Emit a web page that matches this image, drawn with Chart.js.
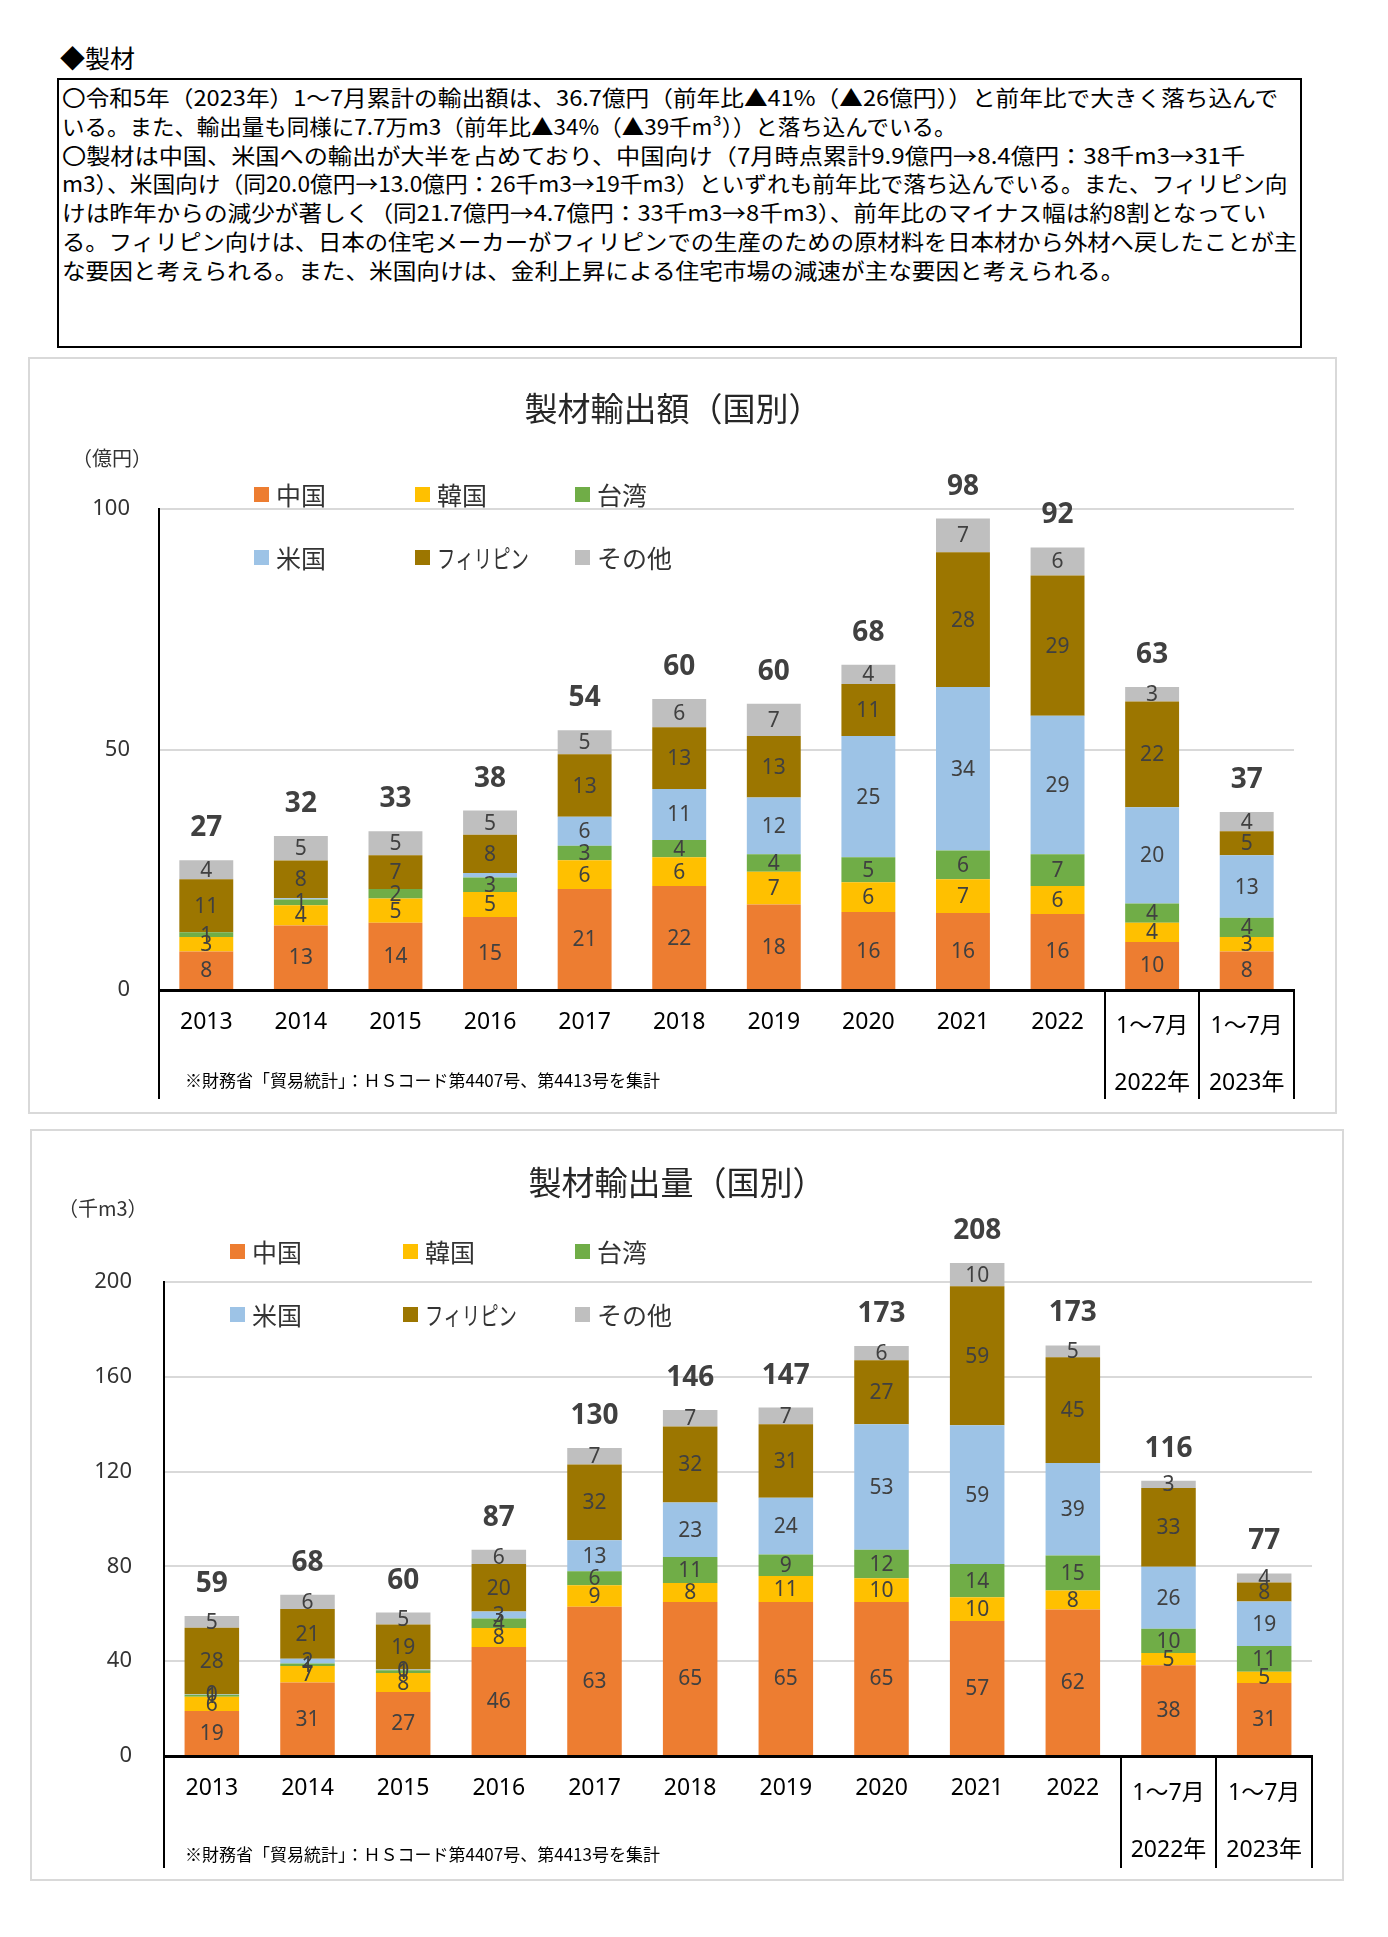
<!DOCTYPE html>
<html lang="ja">
<head>
<meta charset="utf-8">
<script src="https://cdn.jsdelivr.net/npm/chart.js@4.4.0/dist/chart.umd.min.js"></script>
<style>
  body { margin: 0; background: #fff; width: 1388px; height: 1937px; position: relative; font-family: "Noto Sans CJK JP", sans-serif; color: #000; }
  #head { position: absolute; left: 60px; top: 42px; font-size: 25px; line-height: 30px; }
  #box { position: absolute; left: 57px; top: 78px; width: 1245px; height: 270px; border: 2px solid #000; box-sizing: border-box; }
  .line { position: absolute; left: 3px; white-space: nowrap; font-size: 22px; line-height: 29px; transform-origin: 0 50%; }
  .panel { position: absolute; border: 2px solid #d9d9d9; box-sizing: border-box; }
  canvas { position: absolute; }
</style>
</head>
<body>
<div id="head">◆製材</div>
<div id="box">
  <div class="line">〇令和5年（2023年）1～7月累計の輸出額は、36.7億円（前年比▲41%（▲26億円））と前年比で大きく落ち込んで</div>
  <div class="line">いる。また、輸出量も同様に7.7万m3（前年比▲34%（▲39千m³））と落ち込んでいる。</div>
  <div class="line">〇製材は中国、米国への輸出が大半を占めており、中国向け（7月時点累計9.9億円→8.4億円：38千m3→31千</div>
  <div class="line">m3）、米国向け（同20.0億円→13.0億円：26千m3→19千m3）といずれも前年比で落ち込んでいる。また、フィリピン向</div>
  <div class="line">けは昨年からの減少が著しく（同21.7億円→4.7億円：33千m3→8千m3）、前年比のマイナス幅は約8割となってい</div>
  <div class="line">る。フィリピン向けは、日本の住宅メーカーがフィリピンでの生産のための原材料を日本材から外材へ戻したことが主</div>
  <div class="line">な要因と考えられる。また、米国向けは、金利上昇による住宅市場の減速が主な要因と考えられる。</div>
</div>

<div class="panel" style="left:28px;top:357px;width:1309px;height:757px"></div>
<canvas id="chartAmt" width="1309" height="757" style="left:28px;top:357px"></canvas>
<div class="panel" style="left:30px;top:1129px;width:1314px;height:752px"></div>
<canvas id="chartVol" width="1314" height="752" style="left:30px;top:1129px"></canvas>

<script>
// ---- dados ----
const categories = ['2013', '2014', '2015', '2016', '2017', '2018', '2019', '2020', '2021', '2022', ['1～7月', '2022年'], ['1～7月', '2023年']];
const countries = ['中国', '韓国', '台湾', '米国', 'フィリピン', 'その他'];

// 輸出額（億円）
const amtChina  = [8, 13.4, 14, 15.2, 21, 21.6, 17.8, 16.2, 16, 15.8, 10, 8];
const amtKorea  = [3, 4.2, 5, 5.2, 6, 6, 6.8, 6.2, 7, 5.8, 4, 3];
const amtTaiwan = [1, 1.2, 2, 3, 3, 3.6, 3.6, 5.2, 6, 6.6, 4, 4];
const amtUS     = [0, 0.3, 0, 0.9, 6, 10.6, 11.8, 25.2, 34, 28.8, 20, 13];
const amtPhil   = [11, 7.8, 7, 8, 13, 12.8, 12.8, 10.8, 28, 29.2, 22, 5];
const amtOther  = [4, 5.1, 5, 5, 5, 5.9, 6.7, 4, 7, 5.8, 3, 4];
const amtTotal  = [27, 32, 33, 38, 54, 60, 60, 68, 98, 92, 63, 37];
const amtTicks  = [0, 50, 100];

// 輸出量（千m3）
const volChina  = [19, 31, 27, 46, 63, 65, 65, 65, 57, 61.8, 38.3, 30.8];
const volKorea  = [6, 7, 8, 8, 9, 8, 11, 10, 10, 8, 5.2, 4.8];
const volTaiwan = [0.8, 1, 1.2, 4, 6, 11, 9, 12, 14, 14.8, 10.2, 10.8];
const volUS     = [0.3, 2, 0.3, 3, 13, 23, 24, 53, 58.6, 39, 26.2, 18.8];
const volPhil   = [28, 21, 19, 20, 32, 32, 31, 27, 58.6, 44.6, 33.2, 8];
const volOther  = [5, 6, 5, 6, 7, 7, 7, 6, 9.8, 5, 3, 3.8];
const volTotal  = [59, 68, 60, 87, 130, 146, 147, 173, 208, 173, 116, 77];
const volTicks  = [0, 40, 80, 120, 160, 200];

const cores = ['#ED7D31', '#FFC000', '#70AD47', '#9DC3E6', '#9C7600', '#BFBFBF'];
const fonteNum = '"Noto Sans", "Noto Sans CJK JP", sans-serif';
const fonteJp = '"Noto Sans CJK JP", sans-serif';

// ajusta cada linha do quadro na largura que ela tem no original
(function () {
  const larguras = [1216, 895, 1183, 1226, 1204, 1235, 1062];
  document.querySelectorAll('#box .line').forEach((el, i) => {
    el.style.top = (2 + i * 28.8) + 'px';
    el.style.transform = 'scaleX(' + (larguras[i] / el.scrollWidth) + ')';
  });
})();

// plugin que desenha rótulos, legenda e a tabela de baixo
const extras = {
  id: 'extras',
  afterDatasetsDraw(chart, args, o) {
    const ctx = chart.ctx;
    ctx.save();
    ctx.textAlign = 'center';
    ctx.textBaseline = 'middle';
    ctx.fillStyle = '#404040';
    ctx.font = '21px ' + fonteNum;
    chart.data.datasets.forEach((ds, i) => {
      const meta = chart.getDatasetMeta(i);
      meta.data.forEach((el, j) => {
        const bruto = ds.data[j];
        if (bruto === 0) return;
        if (!o.showZero && bruto < 1) return;
        ctx.fillText(String(Math.round(bruto)), el.x, (el.y + el.base) / 2 + 1);
      });
    });
    // totais
    const last = chart.getDatasetMeta(chart.data.datasets.length - 1);
    ctx.font = 'bold 28px ' + fonteNum;
    last.data.forEach((el, j) => {
      ctx.fillText(String(o.totals[j]), el.x, el.y - 32);
    });
    ctx.restore();
  },
  afterDraw(chart, args, o) {
    const ctx = chart.ctx, area = chart.chartArea, x = chart.scales.x;
    ctx.save();
    ctx.textBaseline = 'middle';
    // título
    ctx.fillStyle = '#262626';
    ctx.textAlign = 'center';
    ctx.font = '33px ' + fonteJp;
    ctx.fillText(o.title, o.titlePos[0], o.titlePos[1]);
    // unidade
    ctx.textAlign = 'left';
    ctx.font = '20px ' + fonteJp;
    ctx.fillStyle = '#333';
    ctx.fillText(o.unit, o.unitPos[0], o.unitPos[1]);
    // legenda (texto comprimido como no original)
    ctx.font = '25px ' + fonteJp;
    chart.data.datasets.forEach((ds, i) => {
      const lx = o.legX[i % 3], ly = o.legY[Math.floor(i / 3)];
      ctx.fillStyle = ds.backgroundColor;
      ctx.fillRect(lx, ly - 8, 15, 15);
      ctx.fillStyle = '#333';
      ctx.fillText(ds.label, lx + 22, ly, 92);
    });
    // linhas da tabela
    ctx.strokeStyle = '#000';
    ctx.lineWidth = 2;
    ctx.beginPath();
    ctx.moveTo(area.left, area.bottom);
    ctx.lineTo(area.left, o.tableBottom);
    [10, 11].forEach(i => {
      const bx = Math.round((x.getPixelForValue(i - 1) + x.getPixelForValue(i)) / 2);
      ctx.moveTo(bx, area.bottom);
      ctx.lineTo(bx, o.tableBottom);
    });
    ctx.moveTo(area.right, area.bottom);
    ctx.lineTo(area.right, o.tableBottom);
    ctx.stroke();
    // rótulos do eixo x
    ctx.textAlign = 'center';
    ctx.fillStyle = '#000';
    ctx.font = '23px ' + fonteNum;
    chart.data.labels.forEach((lab, i) => {
      const px = x.getPixelForValue(i);
      if (Array.isArray(lab)) {
        ctx.fillText(lab[0], px, o.labY[1]);
        ctx.fillText(lab[1], px, o.labY[2]);
      } else {
        ctx.fillText(lab, px, o.labY[0]);
      }
    });
    // fonte
    ctx.textAlign = 'left';
    ctx.font = '17px ' + fonteJp;
    ctx.fillStyle = '#000';
    ctx.fillText('※財務省「貿易統計」：ＨＳコード第4407号、第4413号を集計', o.notePos[0], o.notePos[1]);
    ctx.restore();
  }
};

function montarGrafico(id, o) {
  const cv = document.getElementById(id);
  const W = cv.width, H = cv.height;
  return new Chart(cv, {
    type: 'bar',
    data: {
      labels: categories,
      datasets: o.series.map((d, i) => ({
        label: countries[i], data: d, backgroundColor: cores[i],
        barPercentage: 0.57, categoryPercentage: 1, clip: false
      }))
    },
    options: {
      responsive: false,
      animation: false,
      layout: { padding: { left: 0, top: o.area.top, right: W - o.area.right, bottom: H - o.area.bottom } },
      plugins: { legend: { display: false }, tooltip: { enabled: false }, title: { display: false }, extras: o },
      scales: {
        x: {
          stacked: true,
          ticks: { display: false },
          grid: { display: false },
          border: { color: '#000', width: 3 },
          afterFit: s => { s.height = 0; }
        },
        y: {
          stacked: true, min: 0, max: o.max,
          afterBuildTicks: s => { s.ticks = o.ticks.map(v => ({ value: v })); },
          afterFit: s => { s.width = o.area.left; },
          ticks: { padding: o.tickPad, color: '#333', font: { family: fonteNum, size: 22 } },
          grid: { color: '#d9d9d9', lineWidth: 2, drawTicks: false },
          border: { color: '#000', width: 2 }
        }
      }
    },
    plugins: [extras]
  });
}

montarGrafico('chartAmt', {
  series: [amtChina, amtKorea, amtTaiwan, amtUS, amtPhil, amtOther],
  totals: amtTotal, ticks: amtTicks, max: 100, showZero: false,
  area: { left: 131, top: 152, right: 1266, bottom: 633 }, tickPad: 29,
  title: '製材輸出額（国別）', titlePos: [645, 51],
  unit: '（億円）', unitPos: [44, 101],
  legX: [226, 387, 547], legY: [138, 201],
  tableBottom: 742, labY: [665, 669, 726], notePos: [157, 724]
});

montarGrafico('chartVol', {
  series: [volChina, volKorea, volTaiwan, volUS, volPhil, volOther],
  totals: volTotal, ticks: volTicks, max: 200, showZero: true,
  area: { left: 134, top: 153, right: 1282, bottom: 627 }, tickPad: 32,
  title: '製材輸出量（国別）', titlePos: [647, 53],
  unit: '（千m3）', unitPos: [28, 79],
  legX: [200, 373, 545], legY: [123, 186],
  tableBottom: 739, labY: [659, 664, 721], notePos: [155, 726]
});
</script>
</body>
</html>
